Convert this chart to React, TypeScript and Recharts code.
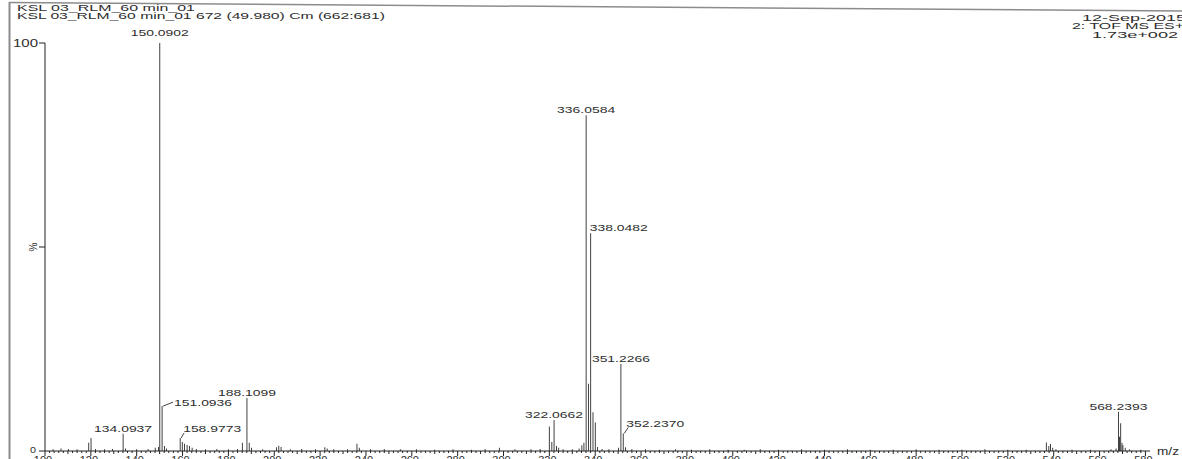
import React from "react";
import { BarChart, Bar, XAxis, YAxis, LabelList } from "recharts";

// ---- data ----
const peakMz: number[] = [
  103.5, 107, 110.2, 114, 119.1, 120.1, 122, 126, 129.5, 134.09, 135.1, 140, 145, 148.1, 149.5,
  150.09, 151.09, 152.1, 153, 158.98, 159.9, 160.9, 162, 163.1, 164.2, 166, 170, 175, 180, 184,
  186.1, 188.11, 189.1, 190.1, 195, 201, 202, 203, 207, 212, 218, 222.1, 223.1, 226, 232, 236.1,
  237.1, 242, 248, 255, 262, 270, 278, 286, 292, 298.2, 305, 312, 316, 320, 321.1, 322.07, 323.1,
  324.1, 326, 330, 333, 334.2, 335.1, 336.06, 337.06, 338.05, 339.05, 340.05, 341, 343, 346, 350.2,
  351.23, 352.24, 353.2, 356, 362, 368, 375, 382, 390, 398, 405, 412, 420, 430, 440, 450, 460, 470,
  480, 490, 500, 510, 520, 528, 536.8, 537.9, 538.6, 539.6, 541, 548, 556, 565, 567.2, 568.24,
  568.7, 569.24, 569.8, 570.2, 571.2, 573, 578,
];
const peakIntensity: number[] = [
  0.4, 0.6, 0.5, 0.4, 2.0, 3.2, 0.5, 0.4, 0.5, 4.2, 0.6, 0.4, 0.5, 0.8, 1.0,
  100, 11, 1.2, 0.6, 3.2, 2.2, 1.8, 1.5, 1.2, 0.8, 0.5, 0.4, 0.5, 0.4, 0.5,
  2.0, 13, 2.0, 0.8, 0.4, 0.9, 1.3, 1.0, 0.4, 0.5, 0.4, 0.9, 0.6, 0.4, 0.4, 1.8,
  0.8, 0.4, 0.5, 0.4, 0.4, 0.3, 0.4, 0.3, 0.5, 0.8, 0.4, 0.4, 0.5, 6.0, 2.2, 7.6, 1.2,
  0.8, 0.4, 0.4, 0.6, 1.4, 2.0, 82.3, 16.5, 53.4, 9.5, 7.0, 1.0, 0.5, 0.4, 0.8,
  21.3, 4.3, 0.9, 0.4, 0.4, 0.3, 0.4, 0.3, 0.4, 0.3, 0.3, 0.4, 0.3, 0.4, 0.3, 0.4, 0.3, 0.3,
  0.4, 0.3, 0.3, 0.4, 0.3, 0.3, 2.1, 1.2, 1.7, 0.8, 0.4, 0.3, 0.3, 0.4, 0.6, 9.6,
  3.5, 6.8, 2.0, 1.5, 0.8, 0.4, 0.3,
];
const labelledMz: number[] = [134.09, 150.09, 151.09, 158.98, 188.11, 322.07, 336.06, 338.05, 351.23, 352.24, 568.24];
const labelText: string[] = [
  "134.0937", "150.0902", "151.0936", "158.9773", "188.1099", "322.0662",
  "336.0584", "338.0482", "351.2266", "352.2370", "568.2393",
];
const majorTicks: number[] = [100, 120, 140, 160, 180, 200, 220, 240, 260, 280, 300, 320, 340, 360, 380, 400, 420, 440, 460, 480, 500, 520, 540, 560, 580];
const yTicks: number[] = [0, 50, 100];
const headerLeft: string[] = ["KSL 03_RLM_60 min_01", "KSL 03_RLM_60 min_01 672 (49.980) Cm (662:681)"];
const headerRight: string[] = ["12-Sep-2015", "2: TOF MS ES+", "1.73e+002"];

const data = peakMz.map((m, i) => {
  const li = labelledMz.indexOf(m);
  return { mz: m, intensity: peakIntensity[i], label: li >= 0 ? labelText[li] : undefined };
});

const allTicks: number[] = [];
for (let t = majorTicks[0]; t <= majorTicks[majorTicks.length - 1]; t += 2) allTicks.push(t);

// label placement (style only)
type Place = { mode: "center" | "start"; dx: number; dy: number; leader?: [number, number, number, number] };
const placement: Record<string, Place> = {
  "150.0902": { mode: "center", dx: 0, dy: -11 },
  "151.0936": { mode: "start", dx: 12, dy: -4, leader: [1, 0, 11, -4] },
  "134.0937": { mode: "center", dx: 0, dy: -5 },
  "158.9773": { mode: "start", dx: 3, dy: -9, leader: [1, 0, 4, -5] },
  "188.1099": { mode: "center", dx: 0, dy: -5 },
  "322.0662": { mode: "center", dx: 0, dy: -5 },
  "336.0584": { mode: "center", dx: 0, dy: -6 },
  "338.0482": { mode: "start", dx: -1, dy: -6 },
  "351.2266": { mode: "center", dx: 0, dy: -6 },
  "352.2370": { mode: "start", dx: 3, dy: -10, leader: [1, 0, 5, -6] },
  "568.2393": { mode: "center", dx: 0, dy: -5 },
};

const TXT = "#2e2e2e";
const FONT = "'Liberation Sans', Arial, sans-serif";

const PeakLabel = (props: any) => {
  const { x, y, width, value } = props;
  if (!value) return null;
  const p = placement[value];
  if (!p) return null;
  const cx = Number(x) + Number(width) / 2;
  const top = Number(y);
  const tx = cx + p.dx;
  return (
    <g>
      {p.leader && (
        <line x1={cx + p.leader[0]} y1={top + p.leader[1]} x2={cx + p.leader[2]} y2={top + p.leader[3]} stroke="#444" strokeWidth={1} />
      )}
      <text
        x={p.mode === "center" ? tx - 29 : tx}
        y={top + p.dy}
        dominantBaseline="central"
        fontSize={9.5}
        fontFamily={FONT}
        fill={TXT}
        textLength={58}
        lengthAdjust="spacingAndGlyphs"
      >
        {value}
      </text>
    </g>
  );
};

const XTick = (props: any) => {
  const { x, y, payload } = props;
  const v = payload.value as number;
  const major = v % 20 === 0;
  const mid = v % 10 === 0;
  const len = major ? 5 : mid ? 3 : 2;
  return (
    <g>
      <line x1={x} y1={y} x2={x} y2={y + len} stroke="#222" strokeWidth={1} />
      {major && (
        <text x={x - 2} y={y + 13} textAnchor="middle" fontSize={11} fontFamily={FONT} fill={TXT}>
          {v}
        </text>
      )}
    </g>
  );
};

const YTick = (props: any) => {
  const { x, y, payload } = props;
  const v = payload.value as number;
  return (
    <g>
      <line x1={x - 6} y1={y} x2={x} y2={y} stroke="#222" strokeWidth={1} />
      {v === 50 ? (
        <text
          x={x - 12}
          y={y}
          transform={`rotate(-90 ${x - 12} ${y})`}
          textAnchor="middle"
          dominantBaseline="central"
          fontSize={10}
          fontFamily={FONT}
          fill={TXT}
        >
          %
        </text>
      ) : (
        <text
          x={v === 100 ? x - 7 : x - 9}
          y={v === 100 ? y : y - 1}
          textAnchor="end"
          dominantBaseline="central"
          fontSize={v === 100 ? 10 : 9}
          fontFamily={FONT}
          fill={TXT}
          textLength={v === 100 ? 25 : 6}
          lengthAdjust="spacingAndGlyphs"
        >
          {v}
        </text>
      )}
    </g>
  );
};

export default function App() {
  return (
    <div style={{ position: "absolute", left: 0, top: 0, width: 1182, height: 459, overflow: "hidden", background: "#fff" }}>
      <BarChart
        width={1182}
        height={480}
        data={data}
        margin={{ top: 43, right: 32, left: 0, bottom: 0 }}
        barCategoryGap={0}
      >
        <XAxis
          dataKey="mz"
          type="number"
          domain={[100, 582]}
          allowDataOverflow
          ticks={allTicks}
          interval={0}
          tickLine={false}
          tickSize={0}
          tickMargin={0}
          axisLine={{ stroke: "#222", strokeWidth: 1 }}
          tick={<XTick />}
          height={29}
        />
        <YAxis
          type="number"
          domain={[0, 100]}
          ticks={yTicks}
          interval={0}
          tickLine={false}
          tickSize={0}
          tickMargin={0}
          axisLine={{ stroke: "#222", strokeWidth: 1 }}
          tick={<YTick />}
          width={45}
        />
        <Bar dataKey="intensity" fill="#1a1a1a" barSize={2} isAnimationActive={false}>
          <LabelList dataKey="label" content={<PeakLabel />} />
        </Bar>
      </BarChart>
      <svg width={1182} height={459} style={{ position: "absolute", left: 0, top: 0, pointerEvents: "none" }}>
        <line x1={9.5} y1={2} x2={9.5} y2={459} stroke="#8c8c8c" strokeWidth={2} />
        <line x1={9} y1={2.5} x2={1182} y2={11} stroke="#8c8c8c" strokeWidth={1.5} />
        <text x={17} y={7.5} dominantBaseline="central" fontSize={9} fontFamily={FONT} fill={TXT} textLength={178} lengthAdjust="spacingAndGlyphs">
          {headerLeft[0]}
        </text>
        <text x={17} y={16} dominantBaseline="central" fontSize={9} fontFamily={FONT} fill={TXT} textLength={368} lengthAdjust="spacingAndGlyphs">
          {headerLeft[1]}
        </text>
        <text x={1082} y={17.5} dominantBaseline="central" fontSize={9} fontFamily={FONT} fill={TXT} textLength={104} lengthAdjust="spacingAndGlyphs">
          {headerRight[0]}
        </text>
        <text x={1072} y={26} dominantBaseline="central" fontSize={9} fontFamily={FONT} fill={TXT} textLength={112} lengthAdjust="spacingAndGlyphs">
          {headerRight[1]}
        </text>
        <text x={1092} y={35} dominantBaseline="central" fontSize={9} fontFamily={FONT} fill={TXT} textLength={86} lengthAdjust="spacingAndGlyphs">
          {headerRight[2]}
        </text>
        <text x={1157} y={451} dominantBaseline="central" fontSize={11} fontFamily={FONT} fill={TXT} textLength={22} lengthAdjust="spacingAndGlyphs">
          m/z
        </text>
      </svg>
    </div>
  );
}
